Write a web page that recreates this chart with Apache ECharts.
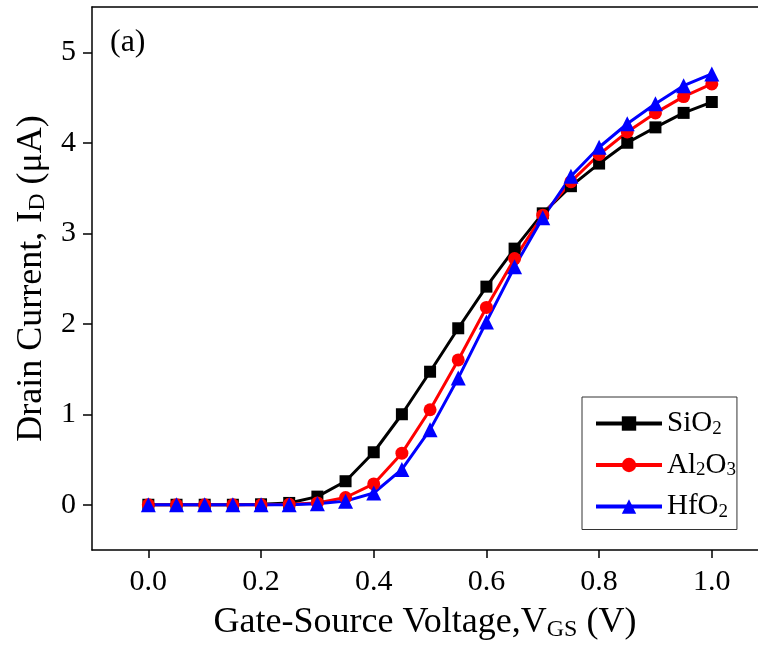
<!DOCTYPE html>
<html><head><meta charset="utf-8">
<script src="https://cdn.jsdelivr.net/npm/echarts@6/dist/echarts.min.js"></script>
<style>html,body{margin:0;padding:0;background:#fff}#c{width:758px;height:647px}</style>
</head><body><div id="c"></div>
<script>
const vgs = [0,0.05,0.1,0.15,0.2,0.25,0.3,0.35,0.4,0.45,0.5,0.55,0.6,0.65,0.7,0.75,0.8,0.85,0.9,0.95,1.0];
const sio2  = [0,0,0,0,0.005,0.02,0.09,0.26,0.58,1.0,1.47,1.95,2.41,2.83,3.22,3.52,3.77,4.0,4.17,4.33,4.45];
const al2o3 = [0,0,0,0,0,0.005,0.02,0.08,0.23,0.57,1.05,1.60,2.18,2.72,3.20,3.57,3.87,4.12,4.33,4.51,4.65];
const hfo2  = [0,0,0,0,0,0,0.01,0.04,0.13,0.39,0.83,1.40,2.02,2.63,3.17,3.63,3.95,4.21,4.43,4.63,4.76];
const seriesNames = ['SiO2','Al2O3','HfO2'];
const legendRich = {'SiO2':'{n|SiO}{s|2}','Al2O3':'{n|Al}{s|2}{n|O}{s|3}','HfO2':'{n|HfO}{s|2}'};
const xTicks = [0,0.2,0.4,0.6,0.8,1.0];
const yTicks = [0,1,2,3,4,5];
const panelLabel = '(a)';

const F = "'Liberation Serif','Times New Roman',serif";
const chart = echarts.init(document.getElementById('c'), null, {renderer:'canvas'});
const pair = arr => vgs.map((x,i)=>[x, arr[i]]);
const axLine = {show:true, onZero:false, lineStyle:{color:'#000', width:1.5}};
chart.setOption({
  backgroundColor:'#fff',
  animation:false,
  title:{text:panelLabel, left:110, top:27, padding:0, textStyle:{fontFamily:F, fontSize:32, fontWeight:'normal', color:'#000'}},
  grid:{left:92, top:7, width:666, height:545, containLabel:false},
  legend:{
    orient:'vertical', left:582, top:397,
    borderColor:'#333', borderWidth:1, padding:[12,1,8,12],
    itemWidth:66, itemHeight:18, itemGap:12,
    data:seriesNames,
    lineStyle:{width:4},
    formatter: n => legendRich[n],
    textStyle:{fontFamily:F, color:'#000', rich:{
      n:{fontFamily:F, fontSize:29, color:'#000', lineHeight:30, verticalAlign:'middle'},
      s:{fontFamily:F, fontSize:19, color:'#000', lineHeight:4, verticalAlign:'bottom'}
    }}
  },
  xAxis:[{
    type:'value', min:-0.1, max:1.082, position:'bottom',
    axisLine:axLine,
    axisTick:{show:true, inside:false, length:8, customValues:xTicks, lineStyle:{color:'#000', width:1.5}},
    axisLabel:{customValues:xTicks, formatter:v=>v.toFixed(1), fontFamily:F, fontSize:30, color:'#000', margin:17},
    splitLine:{show:false},
    name:'{a|Gate-Source Voltage,V}{s|GS}{a| (V)}', nameLocation:'middle', nameGap:54,
    nameTextStyle:{rich:{
      a:{fontFamily:F, fontSize:36, color:'#000', lineHeight:38, verticalAlign:'middle'},
      s:{fontFamily:F, fontSize:24, color:'#000', lineHeight:12, verticalAlign:'bottom'}
    }}
  },{
    type:'value', min:-0.1, max:1.082, position:'top',
    axisLine:axLine, axisTick:{show:false}, axisLabel:{show:false}, splitLine:{show:false}
  }],
  yAxis:[{
    type:'value', min:-0.5, max:5.5, position:'left',
    axisLine:axLine,
    axisTick:{show:true, inside:false, length:9, customValues:yTicks, lineStyle:{color:'#000', width:1.5}},
    axisLabel:{customValues:yTicks, fontFamily:F, fontSize:30, color:'#000', margin:16},
    splitLine:{show:false},
    name:'{a|Drain Current, I}{s|D}{a| (μA)}', nameLocation:'middle', nameGap:30,
    nameTextStyle:{rich:{
      a:{fontFamily:F, fontSize:36, color:'#000', lineHeight:38, verticalAlign:'middle'},
      s:{fontFamily:F, fontSize:24, color:'#000', lineHeight:12, verticalAlign:'bottom'}
    }}
  },{
    type:'value', min:-0.5, max:5.5, position:'right',
    axisLine:{show:false}, axisTick:{show:false}, axisLabel:{show:false}, splitLine:{show:false}
  }],
  series:[
    {name:seriesNames[0], type:'line', data:pair(sio2), symbol:'rect', symbolSize:12,
     itemStyle:{color:'#000'}, lineStyle:{color:'#000', width:3}},
    {name:seriesNames[1], type:'line', data:pair(al2o3), symbol:'circle', symbolSize:13,
     itemStyle:{color:'#ff0000'}, lineStyle:{color:'#ff0000', width:3}},
    {name:seriesNames[2], type:'line', data:pair(hfo2), symbol:'triangle', symbolSize:15,
     itemStyle:{color:'#0000ff'}, lineStyle:{color:'#0000ff', width:3}}
  ]
});
</script></body></html>
